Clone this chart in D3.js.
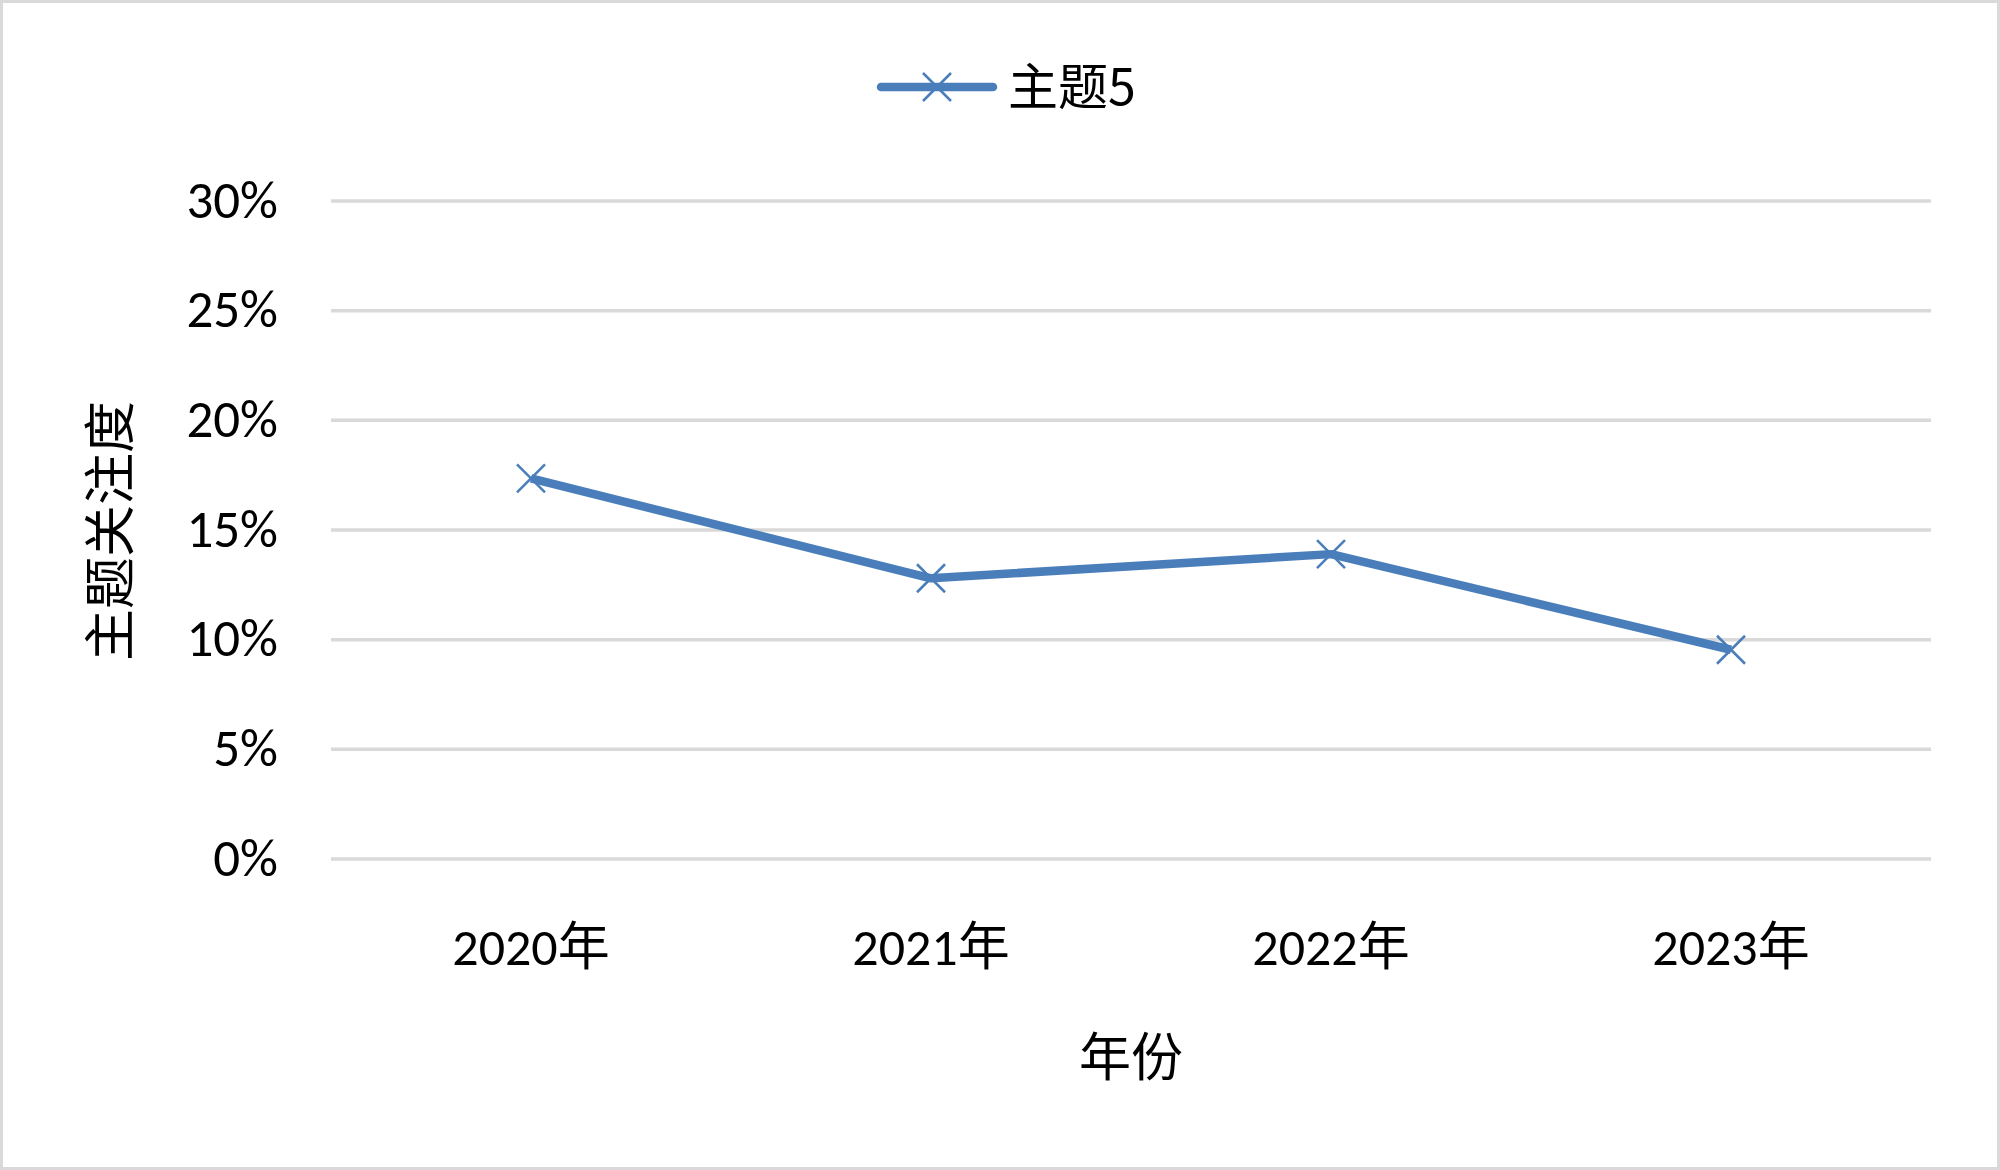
<!DOCTYPE html>
<html>
<head>
<meta charset="utf-8">
<script src="https://cdn.jsdelivr.net/npm/d3@7"></script>
<style>
  html, body { margin: 0; padding: 0; background: #fff; }
  svg { display: block; }
  .tick-label { font-family: Carlito, "Noto Sans", "Noto Sans CJK SC", sans-serif; fill: #000; }
  .cjk { font-family: "Noto Sans CJK SC", "Noto Sans", sans-serif; fill: #000; }
</style>
</head>
<body>
<div id="chart"></div>
<script>
// --- Data ---
const years = ["2020年", "2021年", "2022年", "2023年"];
const topic5 = [0.1735, 0.128, 0.139, 0.0954];
const yTicks = [0, 0.05, 0.10, 0.15, 0.20, 0.25, 0.30];
const seriesName = "主题5";
const xTitle = "年份";
const yTitle = "主题关注度";

// --- Chart Configuration ---
const width = 2000;
const height = 1170;
const plot = { left: 331, right: 1931, top: 201, bottom: 859 };
const lineColor = "#4a7ebb";
const gridColor = "#d9d9d9";

const svg = d3.select("#chart")
  .append("svg")
    .attr("width", width)
    .attr("height", height);

// outer border
svg.append("rect")
  .attr("x", 1.5).attr("y", 1.5)
  .attr("width", width - 3).attr("height", height - 3)
  .attr("fill", "#fff")
  .attr("stroke", gridColor)
  .attr("stroke-width", 3);

const x = d3.scaleBand().domain(years).range([plot.left, plot.right]);
const y = d3.scaleLinear().domain([0, 0.30]).range([plot.bottom, plot.top]);

// --- Gridlines + y labels ---
svg.append("g")
  .selectAll("line")
  .data(yTicks)
  .enter().append("line")
    .attr("x1", plot.left).attr("x2", plot.right)
    .attr("y1", d => y(d)).attr("y2", d => y(d))
    .attr("stroke", gridColor)
    .attr("stroke-width", 3.5);

svg.append("g")
  .selectAll("text")
  .data(yTicks)
  .enter().append("text")
    .attr("class", "tick-label")
    .attr("x", 278)
    .attr("y", d => y(d) + 16.5)
    .attr("text-anchor", "end")
    .style("font-size", "53px")
    .text(d => d3.format(".0%")(d));

// --- X labels ---
svg.append("g")
  .selectAll("text")
  .data(years)
  .enter().append("text")
    .attr("class", "tick-label")
    .attr("x", d => x(d) + x.bandwidth() / 2)
    .attr("y", 965)
    .attr("text-anchor", "middle")
    .style("font-size", "52px")
    .text(d => d);

// --- Axis titles ---
svg.append("text")
  .attr("class", "cjk")
  .attr("x", (plot.left + plot.right) / 2)
  .attr("y", 1076)
  .attr("text-anchor", "middle")
  .style("font-size", "52px")
  .text(xTitle);

svg.append("text")
  .attr("class", "cjk")
  .attr("transform", "translate(129, 531) rotate(-90)")
  .attr("text-anchor", "middle")
  .style("font-size", "52px")
  .text(yTitle);

// --- Line ---
const line = d3.line()
  .x((d, i) => x(years[i]) + x.bandwidth() / 2)
  .y(d => y(d));

svg.append("path")
  .datum(topic5)
  .attr("d", line)
  .attr("fill", "none")
  .attr("stroke", lineColor)
  .attr("stroke-width", 8.5)
  .attr("stroke-linejoin", "round");

function drawCross(g, cx, cy, s) {
  g.append("path")
    .attr("d", `M${cx - s},${cy - s}L${cx + s},${cy + s}M${cx - s},${cy + s}L${cx + s},${cy - s}`)
    .attr("stroke", lineColor)
    .attr("stroke-width", 2.5)
    .attr("fill", "none");
}

const markers = svg.append("g");
topic5.forEach((d, i) => drawCross(markers, x(years[i]) + x.bandwidth() / 2, y(d), 14));

// --- Legend ---
const legend = svg.append("g");
legend.append("line")
  .attr("x1", 881).attr("x2", 993)
  .attr("y1", 87).attr("y2", 87)
  .attr("stroke", lineColor)
  .attr("stroke-width", 8.5)
  .attr("stroke-linecap", "round");
drawCross(legend, 937, 87, 14);
legend.append("text")
  .attr("class", "cjk")
  .attr("x", 1008)
  .attr("y", 105)
  .style("font-size", "50px")
  .text(seriesName);
</script>
</body>
</html>
